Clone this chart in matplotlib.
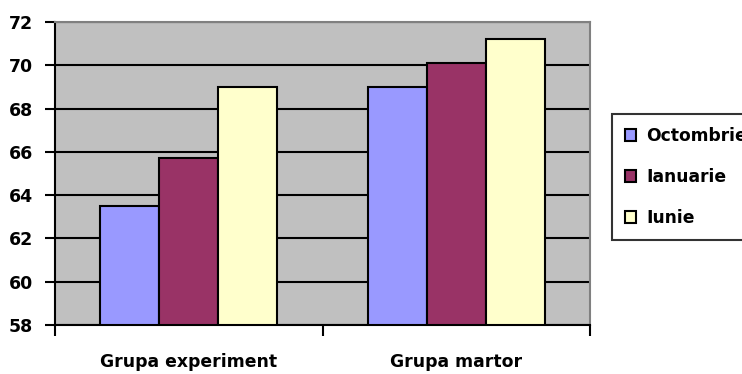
import numpy as np
from matplotlib import pyplot as plt

groups = ['Grupa experiment', 'Grupa martor']
series = ['Octombrie', 'Ianuarie', 'Iunie']
octombrie = [63.5, 69.0]
ianuarie = [65.7, 70.1]
iunie = [69.0, 71.2]
colors = ['#9999FF', '#993366', '#FFFFCC']

plt.rcParams['font.family'] = ['DejaVu Sans']
plt.rcParams['font.weight'] = 'bold'

fig = plt.figure(figsize=(7.42, 3.74), dpi=100)
ax = fig.add_axes([55/742, 1 - 325/374, 535/742, 303/374])
ax.set_facecolor('#C0C0C0')

x = np.arange(len(groups))
w = 0.22
for i, (vals, name) in enumerate(zip([octombrie, ianuarie, iunie], series)):
    ax.bar(x + (i - 1) * w, np.array(vals) - 58, bottom=58, width=w, color=colors[i],
           edgecolor='black', linewidth=1.5, label=name, zorder=3)

ax.set_ylim(58, 72)
ax.set_xlim(-0.5, 1.5)
ax.set_yticks(np.arange(58, 73, 2))
ax.yaxis.grid(True, color='black', linewidth=1.5, zorder=1)
ax.set_axisbelow(True)

# category ticks sit on the boundaries, labels centered under groups
ax.set_xticks([-0.5, 0.5, 1.5])
ax.set_xticklabels([])
ax.set_xticks(x, minor=True)
ax.set_xticklabels(groups, minor=True, fontsize=12.4, fontweight='bold')
ax.tick_params(axis='x', which='minor', length=0, pad=20)
ax.tick_params(axis='x', which='major', length=8, width=1.5, direction='out')
ax.tick_params(axis='y', length=7, width=1.5, labelsize=12.5, pad=9)
for lbl in ax.get_yticklabels():
    lbl.set_fontweight('bold')

ax.spines['left'].set_linewidth(1.5)
ax.spines['bottom'].set_linewidth(1.5)
ax.spines['top'].set_color('#808080')
ax.spines['right'].set_color('#808080')
ax.spines['top'].set_linewidth(1.5)
ax.spines['right'].set_linewidth(1.5)

leg = fig.legend(loc='upper left', bbox_to_anchor=(612/742, 1 - 114/374),
                 frameon=True, fancybox=False, edgecolor='black',
                 prop={'size': 12.3, 'weight': 'bold'},
                 handlelength=0.65, handleheight=0.65, handletextpad=0.6,
                 labelspacing=1.35, borderpad=0.75, borderaxespad=0)
leg.get_frame().set_linewidth(1.5)

fig.savefig('out.png', dpi=100)
